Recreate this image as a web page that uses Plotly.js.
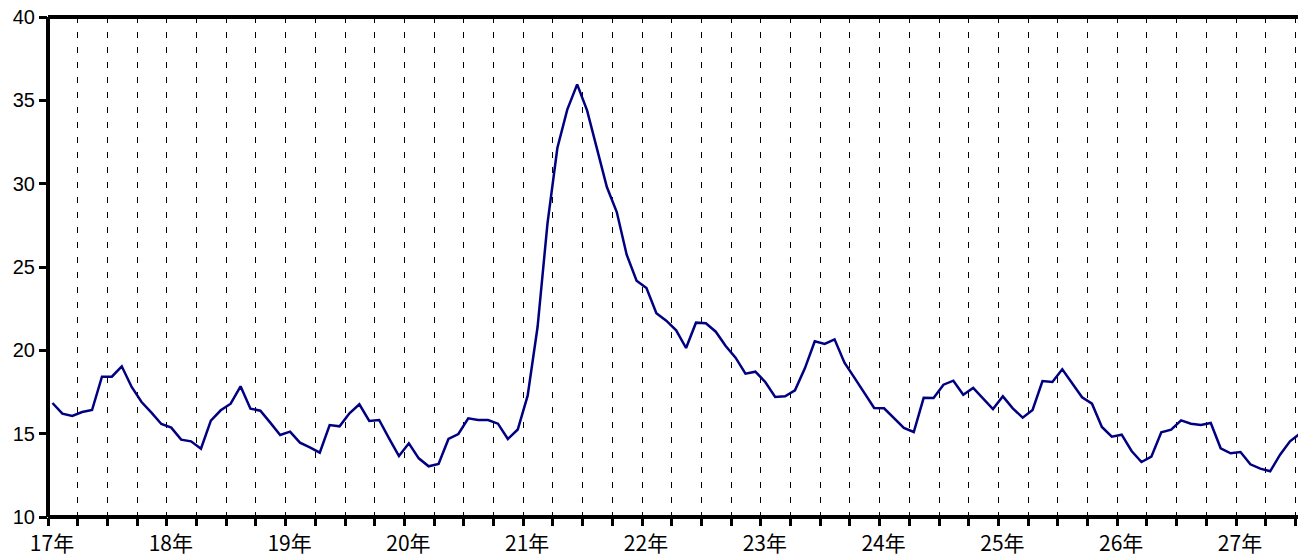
<!DOCTYPE html>
<html>
<head>
<meta charset="utf-8">
<script src="https://cdn.plot.ly/plotly-3.0.1.min.js"></script>
<style>
html, body { margin: 0; padding: 0; background: #ffffff; }
#chart { width: 1298px; height: 557px; }
</style>
</head>
<body>
<div id="chart"></div>
<script>
// Year labels (one per 12 months, starting at 17年)
const yearLabels = ['17年','18年','19年','20年','21年','22年','23年','24年','25年','26年','27年'];

// Monthly values (first value = first month of 17年)
const values = [
  16.84, 16.20, 16.06, 16.30, 16.42, 18.42, 18.42, 19.04, 17.80, 16.90, 16.26, 15.58,
  15.36, 14.64, 14.54, 14.10, 15.78, 16.40, 16.80, 17.84, 16.50, 16.38, 15.66, 14.92,
  15.12, 14.46, 14.18, 13.86, 15.52, 15.44, 16.22, 16.76, 15.76, 15.82, 14.72, 13.66,
  14.42, 13.52, 13.04, 13.18, 14.68, 14.98, 15.92, 15.82, 15.82, 15.60, 14.68, 15.25,
  17.28, 21.40, 27.60, 32.14, 34.44, 35.96, 34.40, 32.14, 29.80, 28.30, 25.74, 24.18,
  23.74, 22.22, 21.78, 21.20, 20.14, 21.66, 21.62, 21.12, 20.26, 19.56, 18.60, 18.72,
  18.10, 17.20, 17.24, 17.60, 18.92, 20.54, 20.38, 20.66, 19.26, 18.36, 17.48, 16.54,
  16.52, 15.92, 15.34, 15.10, 17.15, 17.14, 17.94, 18.18, 17.34, 17.74, 17.14, 16.48,
  17.24, 16.52, 15.96, 16.42, 18.16, 18.10, 18.86, 18.02, 17.18, 16.80, 15.40, 14.82,
  14.94, 13.96, 13.30, 13.62, 15.08, 15.24, 15.80, 15.60, 15.52, 15.64, 14.12, 13.82,
  13.90, 13.16, 12.90, 12.74, 13.74, 14.54, 15.00
];

// y axis ticks
const yTicks = [10, 15, 20, 25, 30, 35, 40];

// x positions: month index (point sits slightly inside its month)
const xs = values.map((v, i) => i + 0.45);

// quarterly ticks; labels only at year starts
const quarterTicks = [];
const quarterText = [];
for (let m = 0; m <= 126; m += 3) {
  quarterTicks.push(m);
  const yi = m / 12;
  quarterText.push(Number.isInteger(yi) && yi < yearLabels.length ? yearLabels[yi] : '');
}

const trace = {
  type: 'scatter',
  mode: 'lines',
  x: xs,
  y: values,
  line: { color: '#000080', width: 2.5 },
  hoverinfo: 'skip'
};

const layout = {
  width: 1298,
  height: 557,
  margin: { l: 48, r: 0, t: 17, b: 40, pad: 0 },
  paper_bgcolor: '#ffffff',
  plot_bgcolor: '#ffffff',
  showlegend: false,
  xaxis: {
    range: [0, 126.26],
    tickmode: 'array',
    tickvals: quarterTicks,
    ticktext: quarterText,
    ticks: 'outside',
    ticklen: 8,
    tickwidth: 3,
    tickcolor: '#000000',
    showgrid: true,
    gridcolor: '#000000',
    gridwidth: 1,
    griddash: '6px,9px',
    showline: false,
    zeroline: false,
    ticklabelshift: 4,
    tickfont: { family: 'Noto Sans CJK JP', size: 21, color: '#000000' }
  },
  yaxis: {
    range: [10, 40],
    tickmode: 'array',
    tickvals: yTicks,
    ticktext: yTicks.map(String),
    ticks: 'outside',
    ticklen: 8,
    tickwidth: 3,
    tickcolor: '#000000',
    showgrid: false,
    showline: false,
    zeroline: false,
    tickfont: { family: 'Liberation Sans, Arial, sans-serif', size: 20, color: '#000000' }
  },
  shapes: [
    { type: 'line', xref: 'paper', yref: 'paper', x0: 0, x1: 0, y0: 0, y1: 1, line: { color: '#000000', width: 4 } },
    { type: 'line', xref: 'paper', yref: 'paper', x0: 0, x1: 1, y0: 0, y1: 0, line: { color: '#000000', width: 4 } },
    { type: 'line', xref: 'paper', yref: 'paper', x0: 0, x1: 1, y0: 1, y1: 1, line: { color: '#000000', width: 4 } }
  ]
};

Plotly.newPlot('chart', [trace], layout, { displayModeBar: false, staticPlot: true });
</script>
</body>
</html>
